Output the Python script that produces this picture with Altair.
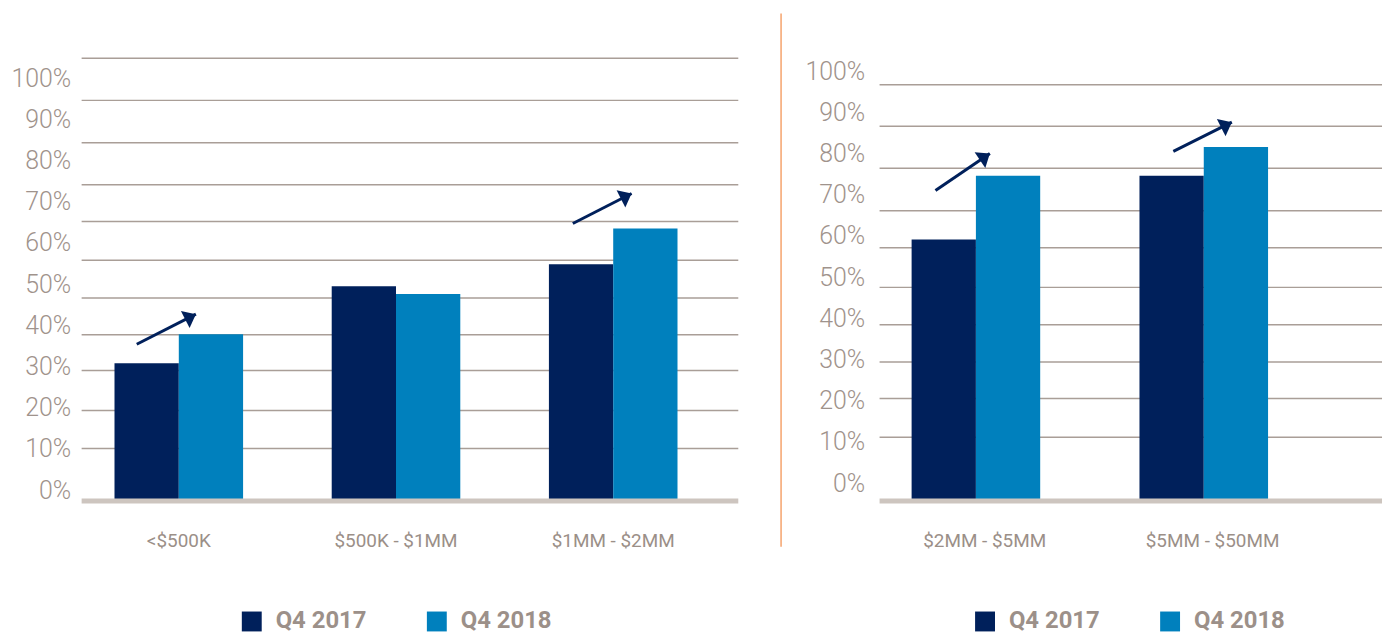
import altair as alt
import pandas as pd

# ---------------- data ----------------
periods = ["Q4 2017", "Q4 2018"]

left_categories = ["<$500K", "$500K - $1MM", "$1MM - $2MM"]
left_q4_2017 = [33, 51.7, 57]
left_q4_2018 = [40, 49.8, 65.7]

right_categories = ["$2MM - $5MM", "$5MM - $50MM"]
right_q4_2017 = [63, 78.5]
right_q4_2018 = [78.5, 85.5]

y_tick_values = [0, 10, 20, 30, 40, 50, 60, 70, 80, 90, 100]

# decorative grid lines (value units)
left_grid_values = [12.3, 21.5, 31.2, 39.9, 48.8, 58.0, 67.4, 76.3, 86.5, 96.8, 107.0]
right_grid_values = [15.0, 24.4, 33.3, 42.3, 51.4, 61.0, 70.0, 80.3, 90.5, 100.6]

# increase arrows: category, start/end position within band, start/end value
left_arrow_cats = ["<$500K", "$1MM - $2MM"]
left_arrow_x0 = [0.173, 0.186]
left_arrow_x1 = [0.633, 0.643]
left_arrow_y0 = [37.6, 66.9]
left_arrow_y1 = [44.9, 74.2]
left_arrow_angle = [333, 333]

right_arrow_cats = ["$2MM - $5MM", "$5MM - $50MM"]
right_arrow_x0 = [0.186, 0.264]
right_arrow_x1 = [0.61, 0.72]
right_arrow_y0 = [74.9, 84.4]
right_arrow_y1 = [83.9, 91.5]
right_arrow_angle = [326, 333]

# ---------------- style ----------------
DARK = "#00205b"
LIGHT = "#0080bd"
GRID = "#a99e97"
BASE = "#cdc5bf"
LABEL = "#9f938c"
XLABEL = "#9b8f88"
LEGEND_LABEL = "#9c9089"
ORANGE = "#f5a36c"
FONT = "Roboto"

H = 492
PX_PER_UNIT = 4.14
Y_MAX = H / PX_PER_UNIT
ARROW_PATH = "M0,0L-1,-0.8L-1,0.8Z"


def panel(cats, v17, v18, grid_vals, a_cats, a_x0, a_x1, a_y0, a_y1, a_ang,
          width, axis_extent, label_pad, label_offset,
          pad_inner, pad_outer, x_align, legend_x, x_label_offset):
    yscale = alt.Scale(domain=[0, Y_MAX], nice=False, zero=True)
    xscale = alt.Scale(domain=cats, paddingInner=pad_inner,
                       paddingOuter=pad_outer, align=x_align)
    xaxis = alt.Axis(title=None, labelAngle=0, domain=False, ticks=False,
                     tickSize=0, grid=False, labelPadding=33,
                     labelOffset=x_label_offset,
                     labelFont=FONT, labelFontSize=19,
                     labelFontWeight=400, labelColor=XLABEL)
    yaxis = alt.Axis(title=None, values=y_tick_values,
                     labelExpr="datum.value + '%'", grid=False,
                     domain=False, ticks=False, tickSize=0,
                     labelPadding=label_pad, labelOffset=label_offset,
                     labelFont=FONT, labelFontSize=25,
                     labelFontWeight=300, labelColor=LABEL,
                     minExtent=axis_extent, maxExtent=axis_extent)

    bars_df = pd.DataFrame({
        "cat": list(cats) * 2,
        "period": [periods[0]] * len(cats) + [periods[1]] * len(cats),
        "value": list(v17) + list(v18),
    })

    grid = alt.Chart(pd.DataFrame({"g": grid_vals})).mark_rule(
        color=GRID, strokeWidth=1.5
    ).encode(y=alt.Y("g:Q", scale=yscale, axis=yaxis, title=None))

    bars = alt.Chart(bars_df).mark_bar().encode(
        x=alt.X("cat:N", scale=xscale, title=None, axis=xaxis),
        xOffset=alt.XOffset("period:N",
                            scale=alt.Scale(domain=periods, paddingInner=0,
                                            paddingOuter=0)),
        y=alt.Y("value:Q", scale=yscale, title=None, axis=yaxis),
        color=alt.Color("period:N",
                        scale=alt.Scale(domain=periods, range=[DARK, LIGHT]),
                        legend=alt.Legend(orient="none", legendX=legend_x,
                                          legendY=603, direction="horizontal",
                                          title=None, symbolType="square",
                                          symbolSize=400, symbolStrokeWidth=0,
                                          symbolOpacity=1, labelFont=FONT,
                                          labelFontSize=24, labelFontWeight="bold",
                                          labelColor=LEGEND_LABEL, labelOffset=12,
                                          columnPadding=58, padding=0)),
    )

    baseline = alt.Chart(pd.DataFrame({"z": [0]})).mark_rule(
        color=BASE, strokeWidth=5, yOffset=2
    ).encode(y=alt.Y("z:Q", scale=yscale, axis=yaxis, title=None))

    layers = [grid, bars, baseline]
    for c, x0, x1, y0, y1, ang in zip(a_cats, a_x0, a_x1, a_y0, a_y1, a_ang):
        adf = pd.DataFrame({"cat": [c], "y0": [y0], "y1": [y1]})
        line = alt.Chart(adf).mark_rule(color=DARK, strokeWidth=3).encode(
            x=alt.X("cat:N", bandPosition=x0, scale=xscale, axis=xaxis, title=None),
            x2=alt.X2("cat", bandPosition=x1),
            y=alt.Y("y0:Q", scale=yscale, axis=yaxis, title=None),
            y2=alt.Y2("y1"),
        )
        head = alt.Chart(adf).mark_point(
            shape=ARROW_PATH, size=576, filled=True, opacity=1,
            color=DARK, strokeWidth=0, angle=ang
        ).encode(
            x=alt.X("cat:N", bandPosition=x1, scale=xscale, axis=xaxis, title=None),
            y=alt.Y("y1:Q", scale=yscale, axis=yaxis, title=None),
        )
        layers += [line, head]

    return alt.layer(*layers).properties(width=width, height=H)


left = panel(left_categories, left_q4_2017, left_q4_2018, left_grid_values,
             left_arrow_cats, left_arrow_x0, left_arrow_x1, left_arrow_y0,
             left_arrow_y1, left_arrow_angle,
             width=660, axis_extent=74, label_pad=11, label_offset=-9,
             pad_inner=0.408, pad_outer=0.2156, x_align=0.351, legend_x=159,
             x_label_offset=0)

right = panel(right_categories, right_q4_2017, right_q4_2018, right_grid_values,
              right_arrow_cats, right_arrow_x0, right_arrow_x1, right_arrow_y0,
              right_arrow_y1, right_arrow_angle,
              width=505, axis_extent=75, label_pad=15, label_offset=-16,
              pad_inner=0.437, pad_outer=0.321, x_align=0.219, legend_x=94,
              x_label_offset=9)

divider = alt.Chart(pd.DataFrame({"d": [0]})).mark_rule(
    color=ORANGE, strokeWidth=1.5
).encode(
    x=alt.value(40), y=alt.value(4), y2=alt.value(540)
).properties(width=63, height=H)

chart = alt.hconcat(left, divider, right, spacing=0).resolve_scale(
    color="independent"
).configure_view(strokeWidth=0).properties(padding=0, background="white")

chart.save("out.html", embed_options={"renderer": "svg", "actions": False})
